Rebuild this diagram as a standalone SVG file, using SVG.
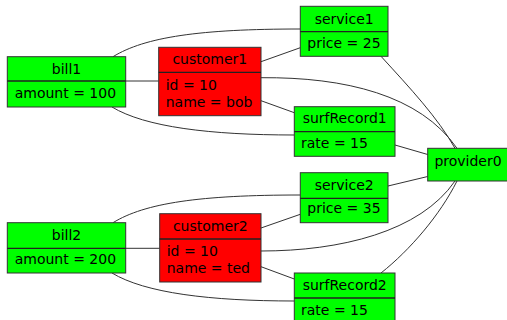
<svg xmlns="http://www.w3.org/2000/svg" width="507" height="320" viewBox="0 0 507 320">
  <style>
    .box { stroke: #333; stroke-width: 1; }
    .ok { fill: #00ff00; }
    .bad { fill: #ff0000; }
    .sep { stroke: #222; stroke-width: 1.3; fill: none; }
    .edge { stroke: #333; stroke-width: 1; fill: none; }
    text { font-family: "DejaVu Sans", sans-serif; font-size: 14px; fill: #000; }
    .title { text-anchor: middle; }
  </style>
  <rect width="507" height="320" fill="#fff"/>

  <g id="connectors">
    <path class="edge" d="M113,56.7 C145,37 200,29 300.3,29"/>
    <path class="edge" d="M126,81 L158.7,81"/>
    <path class="edge" d="M112,107 C145,127 210,135 294.3,135"/>
    <path class="edge" d="M261,61.7 L300.3,47.7"/>
    <path class="edge" d="M261,77.7 C345,77 420,95 457,148.3"/>
    <path class="edge" d="M261,100.7 L294.3,112.7"/>
    <path class="edge" d="M381,56.3 C410,88 438,118 455,148.3"/>
    <path class="edge" d="M395,145 L427.7,154.5"/>
    <path class="edge" d="M427.7,176.5 L388,186"/>
    <path class="edge" d="M455,181 C420,232 340,251 261,251"/>
    <path class="edge" d="M457,181 C440,215 410,250 381,273"/>
    <path class="edge" d="M261,228 L300.3,214.3"/>
    <path class="edge" d="M261,266.7 L294.3,279"/>
    <path class="edge" d="M113,222.7 C145,203 200,195 300.3,195"/>
    <path class="edge" d="M126,248.3 L159.7,248.3"/>
    <path class="edge" d="M112,273 C145,293 210,301 294.3,301"/>
  </g>

  <g id="bill1">
    <rect class="box ok" x="7.3" y="56.7" width="118.4" height="50.3"/>
    <line class="sep" x1="7.3" y1="81" x2="125.7" y2="81"/>
    <text class="title" x="66.5" y="74">bill1</text>
    <text x="14.7" y="98">amount = 100</text>
  </g>

  <g id="customer1">
    <rect class="box bad" x="158.7" y="47.3" width="102.3" height="68.4"/>
    <line class="sep" x1="158.7" y1="72.3" x2="261" y2="72.3"/>
    <text class="title" x="209.8" y="64">customer1</text>
    <text x="165.7" y="89.5">id = 10</text>
    <text x="165.7" y="107">name = bob</text>
  </g>

  <g id="service1">
    <rect class="box ok" x="300.3" y="6.3" width="87.7" height="50"/>
    <line class="sep" x1="300.3" y1="31.7" x2="388" y2="31.7"/>
    <text class="title" x="344.2" y="23.5">service1</text>
    <text x="307.3" y="48">price = 25</text>
  </g>

  <g id="surfRecord1">
    <rect class="box ok" x="294.3" y="106.7" width="100.7" height="49.6"/>
    <line class="sep" x1="294.3" y1="131.7" x2="395" y2="131.7"/>
    <text class="title" x="344.7" y="122.5">surfRecord1</text>
    <text x="301" y="148.3">rate = 15</text>
  </g>

  <g id="provider0">
    <rect class="box ok" x="427.7" y="148.3" width="80.6" height="32.7"/>
    <text class="title" x="468" y="166">provider0</text>
  </g>

  <g id="bill2">
    <rect class="box ok" x="7.3" y="222.7" width="118.4" height="50.3"/>
    <line class="sep" x1="7.3" y1="248.3" x2="125.7" y2="248.3"/>
    <text class="title" x="66.5" y="240">bill2</text>
    <text x="14.7" y="264.3">amount = 200</text>
  </g>

  <g id="customer2">
    <rect class="box bad" x="159.7" y="213.7" width="101.3" height="68.3"/>
    <line class="sep" x1="159.7" y1="239" x2="261" y2="239"/>
    <text class="title" x="210.3" y="230.7">customer2</text>
    <text x="166.7" y="256">id = 10</text>
    <text x="166.7" y="273.3">name = ted</text>
  </g>

  <g id="service2">
    <rect class="box ok" x="300.3" y="172.7" width="87.7" height="50"/>
    <line class="sep" x1="300.3" y1="198.3" x2="388" y2="198.3"/>
    <text class="title" x="344.2" y="190">service2</text>
    <text x="307.3" y="213.3">price = 35</text>
  </g>

  <g id="surfRecord2">
    <rect class="box ok" x="294.3" y="273" width="100.7" height="50"/>
    <line class="sep" x1="294.3" y1="298" x2="395" y2="298"/>
    <text class="title" x="344.7" y="290">surfRecord2</text>
    <text x="301" y="315">rate = 15</text>
  </g>
</svg>
